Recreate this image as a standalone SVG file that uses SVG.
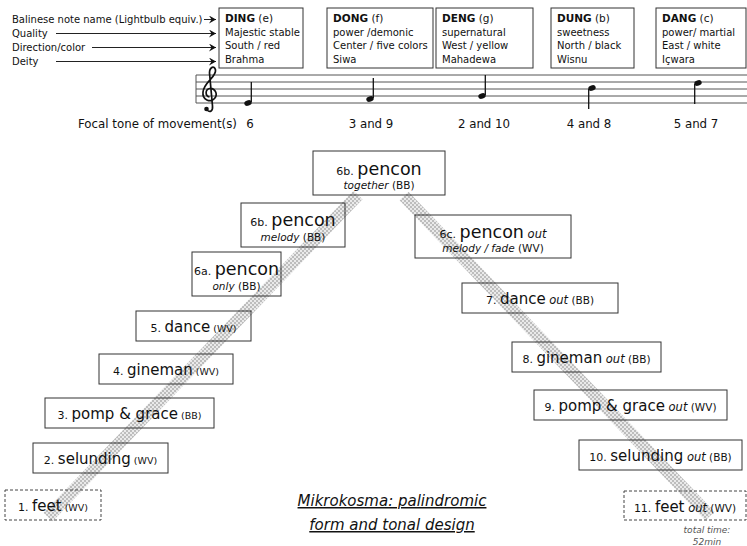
<svg xmlns="http://www.w3.org/2000/svg" width="747" height="546" viewBox="0 0 747 546">
<style>
text{font-family:"DejaVu Sans","Verdana",sans-serif;fill:#111}
.lab{font-size:10px}
.hb{font-size:10.5px;font-weight:bold}
.h{font-size:10px}
.hn{font-weight:normal}
.box{fill:#fff;stroke:#333;stroke-width:1}
.nb{fill:none;stroke:#333;stroke-width:1}
.dash{fill:none;stroke:#444;stroke-width:1;stroke-dasharray:3 2}
.c{text-anchor:middle}
.pre{font-size:11px}
.big{font-size:15px}
.pen{font-size:17.5px}
.sm{font-size:9.5px}
.sr{font-size:10.5px}
.it{font-size:10.5px;font-style:italic}
.out{font-size:11.5px;font-style:italic}
.num{font-size:11.8px}
.staff{stroke:#555;stroke-width:1}
.stem{stroke:#111;stroke-width:1.3}
.band{fill:none;stroke:url(#chk);stroke-width:12.5}
.arr{stroke:#222;stroke-width:1;fill:none}
.title{font-size:15px;font-style:italic;text-decoration:underline;text-anchor:middle}
.tt{font-size:9px;font-style:italic;fill:#555;text-anchor:middle}
</style>
<defs>
<pattern id="chk" width="4" height="4" patternUnits="userSpaceOnUse">
<rect width="4" height="4" fill="#eaeaea"/>
<rect width="2" height="2" fill="#bdbdbd"/>
<rect x="2" y="2" width="2" height="2" fill="#bdbdbd"/>
</pattern>
<marker id="ah" markerWidth="8" markerHeight="8" refX="7" refY="4" orient="auto" markerUnits="userSpaceOnUse">
<path d="M0,0 L7,4 L0,8 L2.5,4 Z" fill="#111"/>
</marker>
</defs>

<g id="legend">
<text class="lab" x="12" y="23">Balinese note name (Lightbulb equiv.)</text>
<text class="lab" x="12" y="37">Quality</text>
<text class="lab" x="12" y="51">Direction/color</text>
<text class="lab" x="12" y="65">Deity</text>
</g>

<g id="legend-arrows">
<line class="arr" x1="204" y1="19.5" x2="216" y2="19.5" marker-end="url(#ah)"/>
<line class="arr" x1="56" y1="33.5" x2="216" y2="33.5" marker-end="url(#ah)"/>
<line class="arr" x1="92" y1="47.5" x2="216" y2="47.5" marker-end="url(#ah)"/>
<line class="arr" x1="56" y1="61.5" x2="216" y2="61.5" marker-end="url(#ah)"/>
</g>

<g id="ding">
<rect class="box" x="219" y="8" width="84" height="60"/>
<text class="hb" x="225" y="22">DING<tspan class="hn"> (e)</tspan></text>
<text class="h" x="225" y="35.5">Majestic stable</text>
<text class="h" x="225" y="49">South / red</text>
<text class="h" x="225" y="62.5">Brahma</text>
</g>
<g id="dong">
<rect class="box" x="327" y="8" width="106" height="60"/>
<text class="hb" x="333" y="22">DONG<tspan class="hn"> (f)</tspan></text>
<text class="h" x="333" y="35.5">power /demonic</text>
<text class="h" x="333" y="49">Center / five colors</text>
<text class="h" x="333" y="62.5">Siwa</text>
</g>
<g id="deng">
<rect class="box" x="436" y="8" width="97" height="60"/>
<text class="hb" x="442" y="22">DENG<tspan class="hn"> (g)</tspan></text>
<text class="h" x="442" y="35.5">supernatural</text>
<text class="h" x="442" y="49">West / yellow</text>
<text class="h" x="442" y="62.5">Mahadewa</text>
</g>
<g id="dung">
<rect class="box" x="551" y="8" width="83" height="60"/>
<text class="hb" x="557" y="22">DUNG<tspan class="hn"> (b)</tspan></text>
<text class="h" x="557" y="35.5">sweetness</text>
<text class="h" x="557" y="49">North / black</text>
<text class="h" x="557" y="62.5">Wisnu</text>
</g>
<g id="dang">
<rect class="box" x="656" y="8" width="90" height="60"/>
<text class="hb" x="662" y="22">DANG<tspan class="hn"> (c)</tspan></text>
<text class="h" x="662" y="35.5">power/ martial</text>
<text class="h" x="662" y="49">East / white</text>
<text class="h" x="662" y="62.5">Içwara</text>
</g>

<g id="staff">
<line class="staff" x1="196" y1="75" x2="747" y2="75"/>
<line class="staff" x1="196" y1="82" x2="747" y2="82"/>
<line class="staff" x1="196" y1="89" x2="747" y2="89"/>
<line class="staff" x1="196" y1="96" x2="747" y2="96"/>
<line class="staff" x1="196" y1="103" x2="747" y2="103"/>
<line class="staff" x1="196" y1="75" x2="196" y2="103"/>
<path d="M207 110 C210 113,213 111,212.5 106 L209.5 73 C209.5 67,214.5 65,215.5 70 C216.5 77,204 82,203 92 C202 100,210.5 103,214.5 98.5 C218.5 94,214.5 87.5,209.5 88.5 C205 89.5,205 96,209.5 97" fill="none" stroke="#111" stroke-width="1.7"/>
<circle cx="206.5" cy="109" r="2.3" fill="#111"/>
<ellipse cx="248" cy="103" rx="3.8" ry="2.7" transform="rotate(-20 248 103)" fill="#111"/>
<line class="stem" x1="251.3" y1="102" x2="251.3" y2="82"/>
<ellipse cx="370" cy="99" rx="3.8" ry="2.7" transform="rotate(-20 370 99)" fill="#111"/>
<line class="stem" x1="373.3" y1="98" x2="373.3" y2="78"/>
<ellipse cx="482" cy="96" rx="3.8" ry="2.7" transform="rotate(-20 482 96)" fill="#111"/>
<line class="stem" x1="485.3" y1="95" x2="485.3" y2="75"/>
<ellipse cx="592" cy="88" rx="3.8" ry="2.7" transform="rotate(-20 592 88)" fill="#111"/>
<line class="stem" x1="588.7" y1="89" x2="588.7" y2="109"/>
<ellipse cx="698" cy="83" rx="3.8" ry="2.7" transform="rotate(-20 698 83)" fill="#111"/>
<line class="stem" x1="694.7" y1="84" x2="694.7" y2="104"/>
</g>

<g id="focal">
<text class="num" x="78" y="128">Focal tone of movement(s)</text>
<text class="num c" x="250" y="128">6</text>
<text class="num c" x="371" y="128">3 and 9</text>
<text class="num c" x="484" y="128">2 and 10</text>
<text class="num c" x="589" y="128">4 and 8</text>
<text class="num c" x="696" y="128">5 and 7</text>
</g>

<g id="connectors">
<line class="band" x1="48" y1="517" x2="358" y2="195"/>
<line class="band" x1="404" y1="196" x2="710" y2="516"/>
</g>

<g id="n6b-together">
<rect class="nb" x="313" y="151" width="132" height="44"/>
<text class="c" x="379" y="175"><tspan class="pre">6b. </tspan><tspan class="pen">pencon</tspan></text>
<text class="c" x="379" y="189"><tspan class="it">together</tspan><tspan class="sr"> (BB)</tspan></text>
</g>
<g id="n6b-melody">
<rect class="nb" x="241" y="203" width="104" height="44"/>
<text class="c" x="293" y="226"><tspan class="pre">6b. </tspan><tspan class="pen">pencon</tspan></text>
<text class="c" x="293" y="241"><tspan class="it">melody</tspan><tspan class="sr"> (BB)</tspan></text>
</g>
<g id="n6a">
<rect class="nb" x="192" y="252" width="89" height="44"/>
<text class="c" x="236.5" y="275"><tspan class="pre">6a. </tspan><tspan class="pen">pencon</tspan></text>
<text class="c" x="236.5" y="290"><tspan class="it">only</tspan><tspan class="sr"> (BB)</tspan></text>
</g>
<g id="n5">
<rect class="nb" x="136" y="311" width="115" height="30"/>
<text class="c" x="193.5" y="332"><tspan class="pre">5. </tspan><tspan class="big">dance</tspan><tspan class="sm"> (WV)</tspan></text>
</g>
<g id="n4">
<rect class="nb" x="99" y="354" width="134" height="30"/>
<text class="c" x="166" y="375"><tspan class="pre">4. </tspan><tspan class="big">gineman</tspan><tspan class="sm"> (WV)</tspan></text>
</g>
<g id="n3">
<rect class="nb" x="45" y="398" width="169" height="30"/>
<text class="c" x="129.5" y="419"><tspan class="pre">3. </tspan><tspan class="big">pomp &amp; grace</tspan><tspan class="sm"> (BB)</tspan></text>
</g>
<g id="n2">
<rect class="nb" x="33" y="443" width="135" height="30"/>
<text class="c" x="100.5" y="464"><tspan class="pre">2. </tspan><tspan class="big">selunding</tspan><tspan class="sm"> (WV)</tspan></text>
</g>
<g id="n1">
<rect class="dash" x="5" y="490" width="96" height="30"/>
<text class="c" x="53" y="511"><tspan class="pre">1. </tspan><tspan class="big">feet</tspan><tspan class="sm"> (WV)</tspan></text>
</g>
<g id="n6c">
<rect class="nb" x="415" y="215" width="156" height="43"/>
<text class="c" x="493" y="238"><tspan class="pre">6c. </tspan><tspan class="pen">pencon</tspan><tspan class="out"> out</tspan></text>
<text class="c" x="493" y="252"><tspan class="it">melody / fade</tspan><tspan class="sr"> (WV)</tspan></text>
</g>
<g id="n7">
<rect class="nb" x="462" y="283" width="156" height="30"/>
<text class="c" x="540" y="304"><tspan class="pre">7. </tspan><tspan class="big">dance</tspan><tspan class="out"> out</tspan><tspan class="sr"> (BB)</tspan></text>
</g>
<g id="n8">
<rect class="nb" x="512" y="342" width="149" height="30"/>
<text class="c" x="586.5" y="363"><tspan class="pre">8. </tspan><tspan class="big">gineman</tspan><tspan class="out"> out</tspan><tspan class="sr"> (BB)</tspan></text>
</g>
<g id="n9">
<rect class="nb" x="534" y="390" width="193" height="30"/>
<text class="c" x="630.5" y="411"><tspan class="pre">9. </tspan><tspan class="big">pomp &amp; grace</tspan><tspan class="out"> out</tspan><tspan class="sr"> (WV)</tspan></text>
</g>
<g id="n10">
<rect class="nb" x="579" y="440" width="163" height="30"/>
<text class="c" x="660.5" y="461"><tspan class="pre">10. </tspan><tspan class="big">selunding</tspan><tspan class="out"> out</tspan><tspan class="sr"> (BB)</tspan></text>
</g>
<g id="n11">
<rect class="dash" x="624" y="491" width="122" height="29"/>
<text class="c" x="685" y="512"><tspan class="pre">11. </tspan><tspan class="big">feet</tspan><tspan class="out"> out</tspan><tspan class="sr"> (WV)</tspan></text>
</g>

<g id="caption">
<text class="title" x="392" y="506">Mikrokosma: palindromic</text>
<text class="title" x="392" y="530">form and tonal design</text>
<text class="tt" x="707" y="533">total time:</text>
<text class="tt" x="707" y="545">52min</text>
</g>
</svg>
